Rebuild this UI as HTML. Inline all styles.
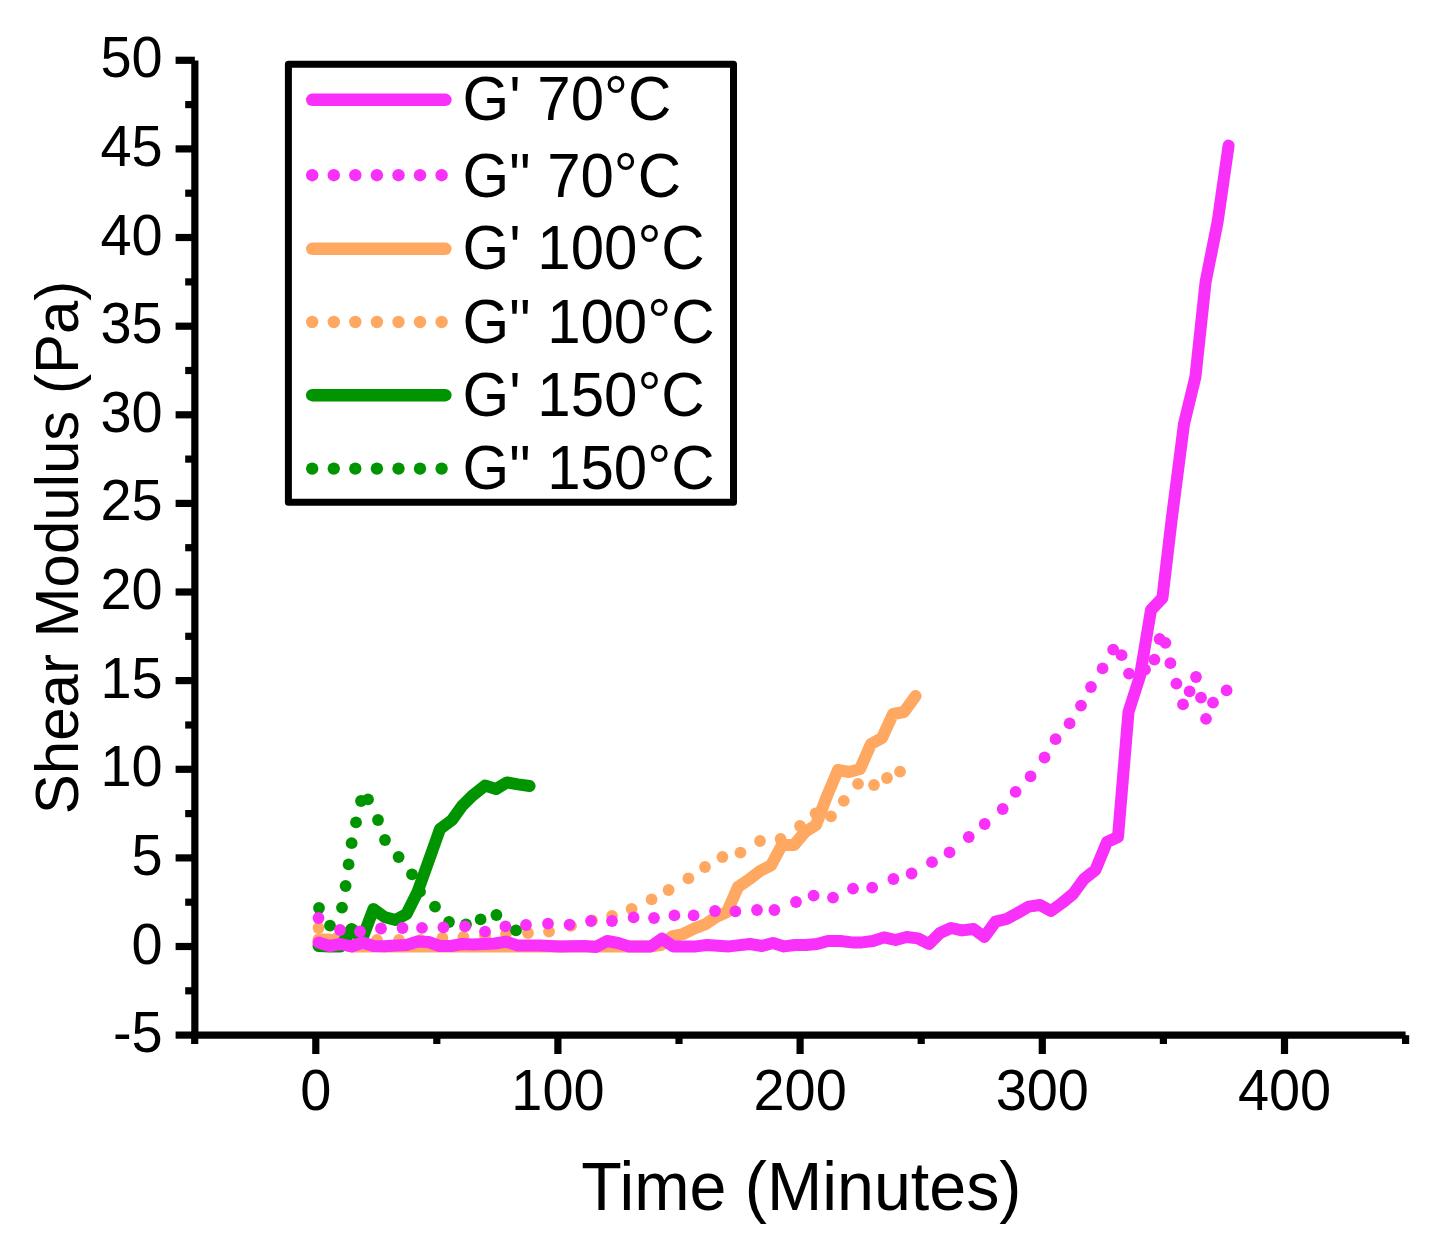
<!DOCTYPE html>
<html lang="en"><head><meta charset="utf-8"><title>Shear Modulus vs Time</title>
<style>html,body{margin:0;padding:0;background:#fff}body{width:1430px;height:1250px;overflow:hidden}svg{display:block}text{font-family:"Liberation Sans",sans-serif;fill:#000}</style></head><body>
<svg width="1430" height="1250" viewBox="0 0 1430 1250">
<rect width="1430" height="1250" fill="#fff"/>
<polyline points="318.5,939.5 329.5,939.5 340.5,944.0 351.5,946.5 400.0,946.5 500.0,946.5 600.0,946.5 650.0,946.5 661.0,945.0 672.0,936.4 683.0,934.0 694.0,928.6 705.0,924.4 716.0,917.0 727.0,912.0 738.0,887.0 749.0,879.4 760.0,871.0 771.0,865.4 782.0,845.0 794.0,845.0 805.0,832.0 816.0,825.0 827.0,796.0 838.0,770.0 849.0,772.0 860.0,769.0 871.0,744.0 882.0,738.0 893.0,714.0 904.0,712.0 915.6,696.0" fill="none" stroke="#ffa862" stroke-width="12" stroke-linecap="round" stroke-linejoin="round"/>
<g fill="#ffa862"><circle cx="318.5" cy="928.0" r="5.9"/><circle cx="337.0" cy="938.0" r="5.9"/><circle cx="357.0" cy="940.0" r="5.9"/><circle cx="377.0" cy="940.0" r="5.9"/><circle cx="399.0" cy="940.0" r="5.9"/><circle cx="420.5" cy="940.0" r="5.9"/><circle cx="442.4" cy="938.0" r="5.9"/><circle cx="463.4" cy="937.0" r="5.9"/><circle cx="485.0" cy="935.5" r="5.9"/><circle cx="506.0" cy="934.0" r="5.9"/><circle cx="528.0" cy="933.0" r="5.9"/><circle cx="549.0" cy="931.6" r="5.9"/><circle cx="571.0" cy="925.8" r="5.9"/><circle cx="592.0" cy="920.4" r="5.9"/><circle cx="612.0" cy="916.0" r="5.9"/><circle cx="631.6" cy="909.0" r="5.9"/><circle cx="651.6" cy="899.4" r="5.9"/><circle cx="668.6" cy="890.0" r="5.9"/><circle cx="688.4" cy="878.4" r="5.9"/><circle cx="705.0" cy="867.0" r="5.9"/><circle cx="722.4" cy="857.0" r="5.9"/><circle cx="740.4" cy="852.6" r="5.9"/><circle cx="760.0" cy="841.0" r="5.9"/><circle cx="780.6" cy="839.0" r="5.9"/><circle cx="800.0" cy="826.0" r="5.9"/><circle cx="815.6" cy="813.3" r="5.9"/><circle cx="831.0" cy="816.4" r="5.9"/><circle cx="843.8" cy="800.8" r="5.9"/><circle cx="858.0" cy="783.8" r="5.9"/><circle cx="874.0" cy="785.0" r="5.9"/><circle cx="887.0" cy="778.0" r="5.9"/><circle cx="900.0" cy="771.6" r="5.9"/></g>
<polyline points="318.5,946.0 329.5,946.5 340.5,946.5 351.5,929.0 362.5,938.0 373.5,909.0 384.5,917.0 395.5,920.0 406.5,914.0 417.5,892.0 429.0,860.0 440.0,829.0 452.0,820.0 462.0,806.0 472.0,796.0 485.0,785.6 496.0,789.0 507.0,782.4 518.0,784.4 529.6,786.0" fill="none" stroke="#009400" stroke-width="12" stroke-linecap="round" stroke-linejoin="round"/>
<g fill="#009400"><circle cx="319.0" cy="908.0" r="5.9"/><circle cx="330.0" cy="925.6" r="5.9"/><circle cx="342.0" cy="907.6" r="5.9"/><circle cx="345.6" cy="886.0" r="5.9"/><circle cx="348.6" cy="864.4" r="5.9"/><circle cx="351.6" cy="843.2" r="5.9"/><circle cx="356.0" cy="822.4" r="5.9"/><circle cx="361.0" cy="801.0" r="5.9"/><circle cx="368.0" cy="799.4" r="5.9"/><circle cx="378.0" cy="820.0" r="5.9"/><circle cx="385.0" cy="840.0" r="5.9"/><circle cx="398.6" cy="857.0" r="5.9"/><circle cx="412.0" cy="874.4" r="5.9"/><circle cx="420.0" cy="891.6" r="5.9"/><circle cx="435.0" cy="906.6" r="5.9"/><circle cx="449.0" cy="922.0" r="5.9"/><circle cx="466.0" cy="924.4" r="5.9"/><circle cx="480.6" cy="919.4" r="5.9"/><circle cx="496.4" cy="915.0" r="5.9"/><circle cx="516.0" cy="930.4" r="5.9"/></g>
<g fill="#f92ffa"><circle cx="318.5" cy="918.0" r="5.9"/><circle cx="340.0" cy="930.0" r="5.9"/><circle cx="360.0" cy="931.5" r="5.9"/><circle cx="381.0" cy="928.5" r="5.9"/><circle cx="402.5" cy="928.0" r="5.9"/><circle cx="422.0" cy="927.8" r="5.9"/><circle cx="443.4" cy="927.3" r="5.9"/><circle cx="465.0" cy="926.4" r="5.9"/><circle cx="485.0" cy="931.6" r="5.9"/><circle cx="505.4" cy="926.4" r="5.9"/><circle cx="526.0" cy="925.0" r="5.9"/><circle cx="548.0" cy="923.6" r="5.9"/><circle cx="569.5" cy="924.6" r="5.9"/><circle cx="591.0" cy="921.0" r="5.9"/><circle cx="612.0" cy="921.0" r="5.9"/><circle cx="633.6" cy="917.4" r="5.9"/><circle cx="654.0" cy="918.0" r="5.9"/><circle cx="674.4" cy="915.4" r="5.9"/><circle cx="693.6" cy="915.4" r="5.9"/><circle cx="715.0" cy="911.0" r="5.9"/><circle cx="735.4" cy="911.4" r="5.9"/><circle cx="757.0" cy="910.0" r="5.9"/><circle cx="774.4" cy="910.0" r="5.9"/><circle cx="796.0" cy="902.0" r="5.9"/><circle cx="813.6" cy="895.6" r="5.9"/><circle cx="833.0" cy="897.6" r="5.9"/><circle cx="853.0" cy="888.6" r="5.9"/><circle cx="872.2" cy="887.6" r="5.9"/><circle cx="893.4" cy="879.0" r="5.9"/><circle cx="911.6" cy="873.5" r="5.9"/><circle cx="932.0" cy="862.2" r="5.9"/><circle cx="949.5" cy="852.4" r="5.9"/><circle cx="968.8" cy="837.0" r="5.9"/><circle cx="984.7" cy="824.0" r="5.9"/><circle cx="1002.7" cy="809.0" r="5.9"/><circle cx="1015.6" cy="791.8" r="5.9"/><circle cx="1030.6" cy="776.4" r="5.9"/><circle cx="1044.5" cy="757.5" r="5.9"/><circle cx="1055.6" cy="739.2" r="5.9"/><circle cx="1069.6" cy="723.4" r="5.9"/><circle cx="1081.0" cy="705.6" r="5.9"/><circle cx="1091.0" cy="687.0" r="5.9"/><circle cx="1102.6" cy="668.4" r="5.9"/><circle cx="1113.2" cy="649.6" r="5.9"/><circle cx="1121.6" cy="655.2" r="5.9"/><circle cx="1129.0" cy="673.6" r="5.9"/><circle cx="1145.0" cy="669.6" r="5.9"/><circle cx="1154.4" cy="659.6" r="5.9"/><circle cx="1159.6" cy="639.0" r="5.9"/><circle cx="1165.4" cy="642.8" r="5.9"/><circle cx="1170.4" cy="663.2" r="5.9"/><circle cx="1176.4" cy="683.6" r="5.9"/><circle cx="1189.6" cy="691.4" r="5.9"/><circle cx="1196.0" cy="677.0" r="5.9"/><circle cx="1201.0" cy="697.6" r="5.9"/><circle cx="1183.0" cy="704.4" r="5.9"/><circle cx="1213.0" cy="702.6" r="5.9"/><circle cx="1206.0" cy="718.8" r="5.9"/><circle cx="1226.6" cy="690.4" r="5.9"/></g>
<polyline points="318.5,942.5 329.5,946.0 340.5,944.0 351.5,946.5 362.5,942.5 373.5,946.0 384.5,946.2 395.5,945.5 406.5,945.0 417.5,941.5 428.5,942.0 439.5,946.0 451.0,946.0 462.0,944.0 473.0,944.5 484.0,944.0 495.0,943.5 506.0,941.6 518.0,945.6 540.0,945.5 560.0,946.4 584.0,946.0 596.0,947.0 607.0,941.0 618.0,943.0 629.0,946.4 651.0,946.4 662.0,938.6 673.0,946.4 696.0,946.4 707.0,945.0 729.0,946.4 750.0,944.0 762.0,946.0 773.0,943.0 784.0,946.4 795.0,945.0 806.0,945.0 817.0,944.0 828.0,941.0 840.0,941.0 852.0,942.4 862.0,942.4 873.0,941.0 884.0,937.4 895.6,940.0 906.6,937.0 918.0,938.4 929.0,944.0 940.0,933.0 951.0,928.0 962.0,930.4 973.6,929.0 984.4,937.0 995.6,921.6 1006.6,919.0 1017.6,913.0 1028.6,906.6 1040.0,905.0 1051.0,911.0 1062.0,903.0 1073.0,894.0 1084.0,879.0 1095.4,870.0 1107.0,842.0 1118.0,837.0 1128.5,712.0 1140.0,676.0 1151.0,610.0 1162.4,598.0 1171.6,520.0 1184.0,424.0 1195.4,377.0 1205.6,282.0 1217.6,222.0 1228.6,145.6" fill="none" stroke="#f92ffa" stroke-width="12" stroke-linecap="round" stroke-linejoin="round"/>
<g stroke="#000" stroke-width="7.2" fill="none" stroke-linecap="butt">
<line x1="194.85" y1="60.5" x2="194.85" y2="1035.2"/>
<line x1="191.25" y1="1035.2" x2="1405.6" y2="1035.2"/>
<line x1="175.6" y1="1035.1" x2="194.85" y2="1035.1"/>
<line x1="175.6" y1="946.5" x2="194.85" y2="946.5"/>
<line x1="175.6" y1="857.9" x2="194.85" y2="857.9"/>
<line x1="175.6" y1="769.3" x2="194.85" y2="769.3"/>
<line x1="175.6" y1="680.6" x2="194.85" y2="680.6"/>
<line x1="175.6" y1="592.0" x2="194.85" y2="592.0"/>
<line x1="175.6" y1="503.4" x2="194.85" y2="503.4"/>
<line x1="175.6" y1="414.8" x2="194.85" y2="414.8"/>
<line x1="175.6" y1="326.2" x2="194.85" y2="326.2"/>
<line x1="175.6" y1="237.5" x2="194.85" y2="237.5"/>
<line x1="175.6" y1="148.9" x2="194.85" y2="148.9"/>
<line x1="175.6" y1="60.3" x2="194.85" y2="60.3"/>
<line x1="185.2" y1="990.8" x2="194.85" y2="990.8"/>
<line x1="185.2" y1="902.2" x2="194.85" y2="902.2"/>
<line x1="185.2" y1="813.6" x2="194.85" y2="813.6"/>
<line x1="185.2" y1="725.0" x2="194.85" y2="725.0"/>
<line x1="185.2" y1="636.3" x2="194.85" y2="636.3"/>
<line x1="185.2" y1="547.7" x2="194.85" y2="547.7"/>
<line x1="185.2" y1="459.1" x2="194.85" y2="459.1"/>
<line x1="185.2" y1="370.5" x2="194.85" y2="370.5"/>
<line x1="185.2" y1="281.9" x2="194.85" y2="281.9"/>
<line x1="185.2" y1="193.2" x2="194.85" y2="193.2"/>
<line x1="185.2" y1="104.6" x2="194.85" y2="104.6"/>
<line x1="194.7" y1="1035.2" x2="194.7" y2="1044"/>
<line x1="315.8" y1="1035.2" x2="315.8" y2="1054"/>
<line x1="436.8" y1="1035.2" x2="436.8" y2="1044"/>
<line x1="557.9" y1="1035.2" x2="557.9" y2="1054"/>
<line x1="679.0" y1="1035.2" x2="679.0" y2="1044"/>
<line x1="800.1" y1="1035.2" x2="800.1" y2="1054"/>
<line x1="921.2" y1="1035.2" x2="921.2" y2="1044"/>
<line x1="1042.3" y1="1035.2" x2="1042.3" y2="1054"/>
<line x1="1163.4" y1="1035.2" x2="1163.4" y2="1044"/>
<line x1="1284.5" y1="1035.2" x2="1284.5" y2="1054"/>
<line x1="1405.6" y1="1035.2" x2="1405.6" y2="1044"/>
</g>
<text transform="translate(162.70,1052.12) scale(1,1.04)" font-size="55.9px" text-anchor="end">-5</text>
<text transform="translate(162.70,963.50) scale(1,1.04)" font-size="55.9px" text-anchor="end">0</text>
<text transform="translate(162.70,874.88) scale(1,1.04)" font-size="55.9px" text-anchor="end">5</text>
<text transform="translate(162.70,786.26) scale(1,1.04)" font-size="55.9px" text-anchor="end">10</text>
<text transform="translate(162.70,697.64) scale(1,1.04)" font-size="55.9px" text-anchor="end">15</text>
<text transform="translate(162.70,609.02) scale(1,1.04)" font-size="55.9px" text-anchor="end">20</text>
<text transform="translate(162.70,520.40) scale(1,1.04)" font-size="55.9px" text-anchor="end">25</text>
<text transform="translate(162.70,431.78) scale(1,1.04)" font-size="55.9px" text-anchor="end">30</text>
<text transform="translate(162.70,343.16) scale(1,1.04)" font-size="55.9px" text-anchor="end">35</text>
<text transform="translate(162.70,254.54) scale(1,1.04)" font-size="55.9px" text-anchor="end">40</text>
<text transform="translate(162.70,165.92) scale(1,1.04)" font-size="55.9px" text-anchor="end">45</text>
<text transform="translate(162.70,77.30) scale(1,1.04)" font-size="55.9px" text-anchor="end">50</text>
<text transform="translate(315.75,1110.00) scale(1,1.04)" font-size="55.9px" text-anchor="middle">0</text>
<text transform="translate(557.94,1110.00) scale(1,1.04)" font-size="55.9px" text-anchor="middle">100</text>
<text transform="translate(800.13,1110.00) scale(1,1.04)" font-size="55.9px" text-anchor="middle">200</text>
<text transform="translate(1042.32,1110.00) scale(1,1.04)" font-size="55.9px" text-anchor="middle">300</text>
<text transform="translate(1284.51,1110.00) scale(1,1.04)" font-size="55.9px" text-anchor="middle">400</text>
<text transform="translate(801.40,1209.60) scale(1,1.02)" font-size="66.4px" text-anchor="middle">Time (Minutes)</text>
<text transform="translate(78.40,547.40) rotate(-90) scale(1,1.02)" font-size="60px" text-anchor="middle">Shear Modulus (Pa)</text>
<rect x="288.4" y="64.3" width="445.1" height="437.9" fill="#fff" stroke="#000" stroke-width="7" stroke-linejoin="round"/>
<line x1="312.2" y1="99.8" x2="445.4" y2="99.8" stroke="#f92ffa" stroke-width="12.4" stroke-linecap="round"/>
<text transform="translate(462.50,120.20) scale(1,1.04)" font-size="60px" text-anchor="start">G' 70°C</text>
<g fill="#f92ffa"><circle cx="312.2" cy="175.2" r="6.2"/><circle cx="333.8" cy="175.2" r="6.2"/><circle cx="355.3" cy="175.2" r="6.2"/><circle cx="376.9" cy="175.2" r="6.2"/><circle cx="398.5" cy="175.2" r="6.2"/><circle cx="420.0" cy="175.2" r="6.2"/><circle cx="441.6" cy="175.2" r="6.2"/></g>
<text transform="translate(462.50,196.50) scale(1,1.04)" font-size="60px" text-anchor="start">G&quot; 70°C</text>
<line x1="312.2" y1="248.8" x2="445.4" y2="248.8" stroke="#ffa862" stroke-width="12.4" stroke-linecap="round"/>
<text transform="translate(462.50,269.00) scale(1,1.04)" font-size="60px" text-anchor="start">G' 100°C</text>
<g fill="#ffa862"><circle cx="312.2" cy="322.0" r="6.2"/><circle cx="333.8" cy="322.0" r="6.2"/><circle cx="355.3" cy="322.0" r="6.2"/><circle cx="376.9" cy="322.0" r="6.2"/><circle cx="398.5" cy="322.0" r="6.2"/><circle cx="420.0" cy="322.0" r="6.2"/><circle cx="441.6" cy="322.0" r="6.2"/></g>
<text transform="translate(462.50,342.80) scale(1,1.04)" font-size="60px" text-anchor="start">G&quot; 100°C</text>
<line x1="312.2" y1="395.2" x2="445.4" y2="395.2" stroke="#009400" stroke-width="12.4" stroke-linecap="round"/>
<text transform="translate(462.50,416.00) scale(1,1.04)" font-size="60px" text-anchor="start">G' 150°C</text>
<g fill="#009400"><circle cx="312.2" cy="468.6" r="6.2"/><circle cx="333.8" cy="468.6" r="6.2"/><circle cx="355.3" cy="468.6" r="6.2"/><circle cx="376.9" cy="468.6" r="6.2"/><circle cx="398.5" cy="468.6" r="6.2"/><circle cx="420.0" cy="468.6" r="6.2"/><circle cx="441.6" cy="468.6" r="6.2"/></g>
<text transform="translate(462.50,489.30) scale(1,1.04)" font-size="60px" text-anchor="start">G&quot; 150°C</text>
</svg></body></html>
